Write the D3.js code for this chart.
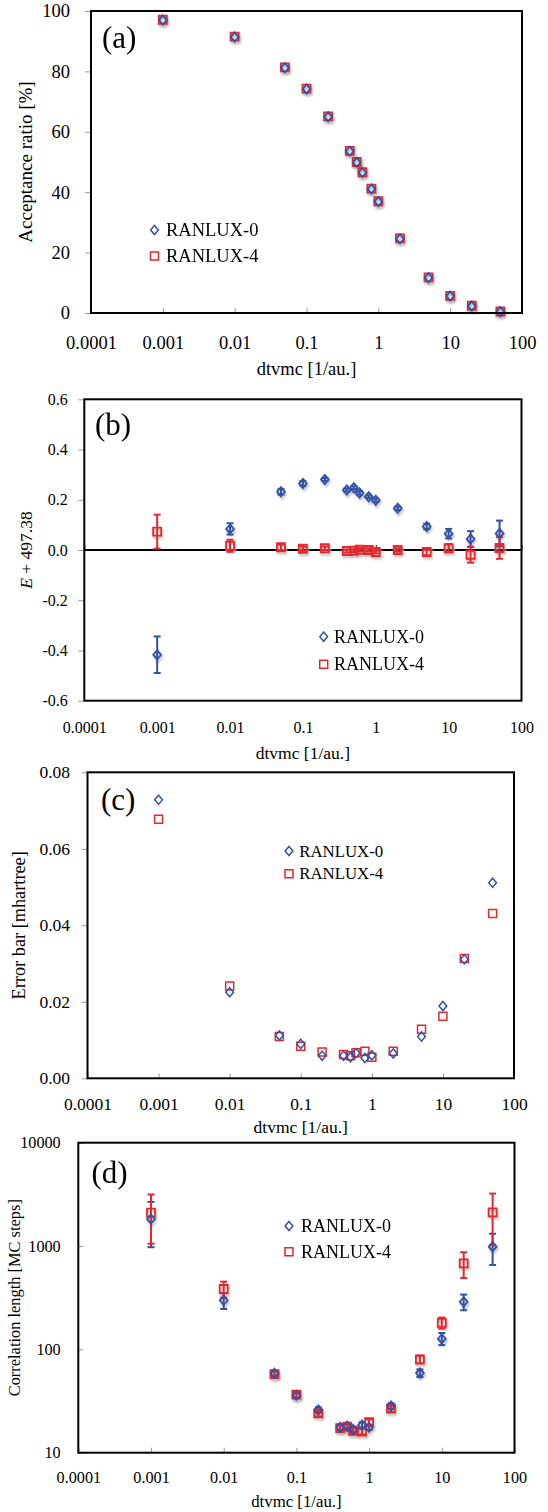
<!DOCTYPE html>
<html>
<head>
<meta charset="utf-8">
<script src="https://cdn.jsdelivr.net/npm/d3@7"></script>
<style>
  html, body { margin: 0; padding: 0; background: #fff; }
  svg { display: block; }
  text { font-family: "Liberation Serif", "Times New Roman", serif; fill: #000; }
</style>
</head>
<body>
<svg id="fig" width="548" height="1512"></svg>
<script>
// ---- data -------------------------------------------------------------
const dtvmc = [0.001, 0.01, 0.05, 0.1, 0.2, 0.4, 0.5, 0.6, 0.8, 1, 2, 5, 10, 20, 50];
const xTickValues = [0.0001, 0.001, 0.01, 0.1, 1, 10, 100];
const xTickLabels = ["0.0001", "0.001", "0.01", "0.1", "1", "10", "100"];
const seriesNames = ["RANLUX-0", "RANLUX-4"];

// (a) acceptance ratio [%]
const acceptR0 = [97.0, 91.4, 81.2, 74.2, 65.0, 53.6, 49.9, 46.5, 41.1, 36.9, 24.6, 11.7, 5.6, 2.3, 0.4];
const acceptR4 = [97.1, 91.5, 81.3, 74.3, 65.1, 53.7, 50.0, 46.6, 41.2, 37.0, 24.7, 11.8, 5.7, 2.4, 0.5];
const acceptTicks = [0, 20, 40, 60, 80, 100];
const acceptTickLabels = ["0", "20", "40", "60", "80", "100"];

// (b) energy offset E + 497.38
const energyR0 = [-0.417, 0.084, 0.232, 0.265, 0.281, 0.239, 0.248, 0.227, 0.212, 0.198, 0.166, 0.094, 0.065, 0.044, 0.066];
const energyR4 = [0.073, 0.017, 0.011, 0.005, 0.007, -0.004, -0.003, 0.001, 0.0, -0.008, 0.0, -0.008, 0.007, -0.019, 0.008];
const energyTicks = [-0.6, -0.4, -0.2, 0, 0.2, 0.4, 0.6];
const energyTickLabels = ["-0.6", "-0.4", "-0.2", "0.0", "0.2", "0.4", "0.6"];

// (c) statistical error bar [mhartree]
const errBarR0 = [0.0728, 0.0225, 0.0112, 0.0090, 0.0059, 0.0059, 0.0055, 0.0066, 0.0053, 0.0060, 0.0065, 0.0109, 0.0189, 0.0311, 0.0511];
const errBarR4 = [0.0677, 0.0241, 0.0109, 0.0084, 0.0069, 0.0062, 0.0059, 0.0067, 0.0071, 0.0055, 0.0071, 0.0128, 0.0162, 0.0313, 0.0431];
const errTicks = [0, 0.02, 0.04, 0.06, 0.08];
const errTickLabels = ["0.00", "0.02", "0.04", "0.06", "0.08"];

// (d) correlation length [MC steps] and its uncertainty
const corrR0 = [1824, 298, 58.6, 35.9, 25.9, 17.6, 18.1, 16.8, 18.5, 17.6, 28.3, 59.0, 127, 289, 986];
const corrR4 = [2104, 384, 57.7, 36.4, 24.0, 17.3, 17.9, 16.3, 16.0, 19.8, 26.7, 80.0, 181, 680, 2118];
const corrErrR0 = [850, 52, 3.5, 2.0, 1.6, 1.0, 1.0, 1.0, 1.2, 1.0, 1.8, 5, 17, 50, 330];
const corrErrR4 = [1050, 68, 3.5, 2.2, 1.5, 1.0, 1.0, 1.0, 1.0, 1.3, 1.8, 7, 22, 190, 1100];
const corrTicks = [10, 100, 1000, 10000];
const corrTickLabels = ["10", "100", "1000", "10000"];

// ---- styling ------------------------------------------------------------
const BLUE = "#3152a8";
const RED = "#e8262b";
const seriesStyle = [
  { color: BLUE, shape: "diamond" },
  { color: RED, shape: "square" }
];

function markerPath(shape) {
  if (shape === "diamond") return "M0,-4.6L3.9,0L0,4.6L-3.9,0Z";
  return "M-4,-4H4V4H-4Z";
}

const panels = [
  {
    label: "(a)", frame: [91, 522, 11, 313],
    yType: "linear", yDomain: [0, 100], yTicks: acceptTicks, yTickLabels: acceptTickLabels,
    values: [acceptR0, acceptR4], errors: null, shadow: true,
    yTitle: [{ t: "Acceptance ratio [%]" }],
    fs: { tick: 18.5, title: 18.5, yTitle: 19, legend: 18.5 },
    tickBase: 348.5, titleBase: 375, yLabRight: 70, yTickOut: 6, yTitleX: 24.5,
    legend: { mx: 154.5, tx: 166, rows: [230, 256] },
    labelPos: [102, 48]
  },
  {
    label: "(b)", frame: [84.3, 521.5, 399.3, 700.7],
    yType: "linear", yDomain: [-0.6, 0.6], yTicks: energyTicks, yTickLabels: energyTickLabels,
    values: [energyR0, energyR4], errors: [errBarR0, errBarR4], shadow: true, zeroAxis: true,
    yTitle: [{ t: "E", italic: true }, { t: " + 497.38" }],
    fs: { tick: 16, title: 17.5, yTitle: 17.5, legend: 18 },
    tickBase: 732.7, titleBase: 759, yLabRight: 67.7, yTickOut: 6, yTitleX: 26,
    legend: { mx: 323.7, tx: 334, rows: [636.7, 664.3] },
    labelPos: [95, 435]
  },
  {
    label: "(c)", frame: [87.5, 514, 772.3, 1078.3],
    yType: "linear", yDomain: [0, 0.08], yTicks: errTicks, yTickLabels: errTickLabels,
    values: [errBarR0, errBarR4], errors: null, shadow: false,
    yTitle: [{ t: "Error bar [mhartree]" }],
    fs: { tick: 17.5, title: 17.5, yTitle: 18.3, legend: 16.8 },
    tickBase: 1110, titleBase: 1132.5, yLabRight: 70, yTickOut: 6, yTitleX: 19,
    legend: { mx: 289, tx: 299.3, rows: [851, 873.7] },
    labelPos: [101, 810]
  },
  {
    label: "(d)", frame: [78.3, 514.5, 1142.7, 1452.7],
    yType: "log", yDomain: [10, 10000], yTicks: corrTicks, yTickLabels: corrTickLabels,
    values: [corrR0, corrR4], errors: [corrErrR0, corrErrR4], shadow: true,
    yTitle: [{ t: "Correlation length [MC steps]" }],
    fs: { tick: 16.2, title: 16.8, yTitle: 16.4, legend: 18 },
    tickBase: 1482.7, titleBase: 1507, yLabRight: 60.7, yTickOut: -5, yTitleX: 14,
    legend: { mx: 289, tx: 301, rows: [1226, 1251.7] },
    labelPos: [91.5, 1183]
  }
];

const svg = d3.select("#fig");

// soft drop shadow used under the plotted markers
const defs = svg.append("defs");
defs.append("filter").attr("id", "soft").attr("x", "-50%").attr("y", "-50%")
  .attr("width", "200%").attr("height", "200%")
  .append("feGaussianBlur").attr("stdDeviation", 0.9);

panels.forEach(p => {
  const [x0, x1, y0, y1] = p.frame;
  const g = svg.append("g");
  const markerStroke = p.shadow ? 1.8 : 1.5;

  const x = d3.scaleLog().domain([1e-4, 100]).range([x0, x1]);
  const y = (p.yType === "log" ? d3.scaleLog() : d3.scaleLinear()).domain(p.yDomain).range([y1, y0]);

  // y axis: tick marks and labels
  const yAxis = d3.axisLeft(y)
    .tickValues(p.yTicks)
    .tickFormat((d, i) => p.yTickLabels[i])
    .tickSize(p.yTickOut)
    .tickPadding(x0 - p.yLabRight - Math.max(p.yTickOut, 0));
  const ya = g.append("g").attr("transform", `translate(${x0},0)`).call(yAxis);
  ya.select(".domain").remove();
  ya.selectAll(".tick line").attr("stroke", "#9a9a9a").attr("stroke-width", 1);
  ya.selectAll(".tick text").attr("font-size", p.fs.tick).attr("font-family", null)
    .attr("fill", "#000");

  // x axis tick marks (point inward, sitting on the horizontal axis line)
  const axisLineY = p.zeroAxis ? y(0) : y1;
  const xTickAxis = d3.axisBottom(x).tickValues(xTickValues).tickFormat("").tickSize(-5);
  const xt = g.append("g").attr("transform", `translate(0,${axisLineY})`).call(xTickAxis);
  xt.select(".domain").remove();
  xt.selectAll(".tick line").attr("stroke", p.zeroAxis ? "#000" : "#9a9a9a").attr("stroke-width", 1);

  // x axis labels at the bottom of the frame
  const xLabAxis = d3.axisBottom(x).tickValues(xTickValues)
    .tickFormat((d, i) => xTickLabels[i]).tickSize(0).tickPadding(0);
  const xl = g.append("g").attr("transform", `translate(0,${p.tickBase})`).call(xLabAxis);
  xl.select(".domain").remove();
  xl.selectAll(".tick text").attr("dy", null).attr("y", 0)
    .attr("font-size", p.fs.tick).attr("font-family", null).attr("fill", "#000");

  // zero line for the energy panel
  if (p.zeroAxis) {
    g.append("line").attr("x1", x0).attr("x2", x1).attr("y1", y(0)).attr("y2", y(0))
      .attr("stroke", "#000").attr("stroke-width", 2);
  }

  // axis titles
  g.append("text").attr("x", (x0 + x1) / 2).attr("y", p.titleBase)
    .attr("text-anchor", "middle").attr("font-size", p.fs.title).text("dtvmc [1/au.]");
  const yt = g.append("text")
    .attr("transform", `translate(${p.yTitleX},${(y0 + y1) / 2}) rotate(-90)`)
    .attr("text-anchor", "middle").attr("dominant-baseline", "central")
    .attr("font-size", p.fs.yTitle);
  p.yTitle.forEach(s => {
    yt.append("tspan").attr("font-style", s.italic ? "italic" : null).text(s.t);
  });

  const ptsOf = si => dtvmc.map((d, i) => ({
    x: x(d), v: p.values[si][i], e: p.errors ? p.errors[si][i] : 0
  }));

  // marker shadows
  if (p.shadow) {
    [1, 0].forEach(si => {
      g.append("g").attr("filter", "url(#soft)")
        .selectAll("path").data(ptsOf(si)).join("path")
        .attr("d", markerPath(seriesStyle[si].shape))
        .attr("transform", d => `translate(${d.x + 1},${y(d.v) + 2.2})`)
        .attr("fill", "none").attr("stroke", "#b8b8b8").attr("stroke-width", 2);
    });
  }

  // error bars
  if (p.errors) {
    [0, 1].forEach(si => {
      const col = seriesStyle[si].color;
      const eg = g.append("g").attr("stroke", col).attr("stroke-width", 2).attr("fill", "none");
      ptsOf(si).forEach(d => {
        const lo = y(d.v - d.e), hi = y(d.v + d.e);
        eg.append("line").attr("x1", d.x).attr("x2", d.x).attr("y1", lo).attr("y2", hi);
        eg.append("line").attr("x1", d.x - 3.5).attr("x2", d.x + 3.5).attr("y1", lo).attr("y2", lo);
        eg.append("line").attr("x1", d.x - 3.5).attr("x2", d.x + 3.5).attr("y1", hi).attr("y2", hi);
      });
    });
  }

  // markers
  [1, 0].forEach(si => {
    g.append("g").selectAll("path").data(ptsOf(si)).join("path")
      .attr("d", markerPath(seriesStyle[si].shape))
      .attr("transform", d => `translate(${d.x},${y(d.v)})`)
      .attr("fill", "none").attr("stroke", seriesStyle[si].color).attr("stroke-width", markerStroke);
  });

  // legend
  seriesNames.forEach((name, si) => {
    const ry = p.legend.rows[si];
    g.append("path").attr("d", markerPath(seriesStyle[si].shape))
      .attr("transform", `translate(${p.legend.mx},${ry})`)
      .attr("fill", "none").attr("stroke", seriesStyle[si].color).attr("stroke-width", 1.5);
    g.append("text").attr("x", p.legend.tx).attr("y", ry)
      .attr("dominant-baseline", "central").attr("font-size", p.fs.legend).text(name);
  });

  // panel tag
  g.append("text").attr("x", p.labelPos[0]).attr("y", p.labelPos[1])
    .attr("font-size", 31).text(p.label);

  // plot frame
  g.append("rect").attr("x", x0).attr("y", y0).attr("width", x1 - x0).attr("height", y1 - y0)
    .attr("fill", "none").attr("stroke", "#000").attr("stroke-width", 2);
});
</script>
</body>
</html>
